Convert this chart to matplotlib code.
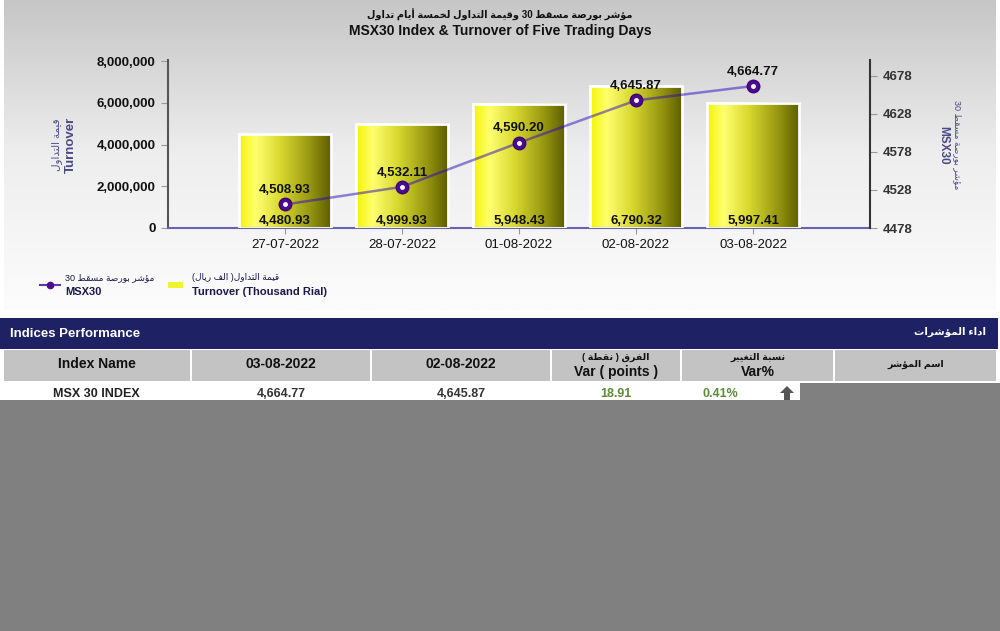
import matplotlib
matplotlib.use("Agg")
import matplotlib.pyplot as plt
import numpy as np
from matplotlib.colors import LinearSegmentedColormap
from matplotlib.patches import Rectangle, Polygon
from matplotlib.lines import Line2D

plt.rcParams['font.family'] = ['Liberation Sans', 'DejaVu Sans']

# ---- data ----
dates = ['27-07-2022', '28-07-2022', '01-08-2022', '02-08-2022', '03-08-2022']
turnover = [4480.93, 4999.93, 5948.43, 6790.32, 5997.41]   # thousand rial
index_vals = [4508.93, 4532.11, 4590.20, 4645.87, 4664.77]
left_ticks = [0, 2000000, 4000000, 6000000, 8000000]
right_ticks = [4478, 4528, 4578, 4628, 4678]

table_head = ['Index Name', '03-08-2022', '02-08-2022', 'Var ( points )', 'Var%']
table_head_ar = ['', '', '', 'الفرق ( نقطة )', 'نسبة التغيير', 'اسم المؤشر']
table_row = ['MSX 30 INDEX', '4,664.77', '4,645.87', '18.91', '0.41%']

# ---- tiny arabic shaping (matplotlib has no RTL support) ----
AR_FORMS = {
    '\u0621': (0xFE80, 'U'), '\u0623': (0xFE83, 'R'), '\u0624': (0xFE85, 'R'),
    '\u0627': (0xFE8D, 'R'), '\u0628': (0xFE8F, 'D'), '\u0629': (0xFE93, 'R'),
    '\u062A': (0xFE95, 'D'), '\u062E': (0xFEA5, 'D'), '\u062F': (0xFEA9, 'R'),
    '\u0631': (0xFEAD, 'R'), '\u0633': (0xFEB1, 'D'), '\u0634': (0xFEB5, 'D'),
    '\u0635': (0xFEB9, 'D'), '\u0637': (0xFEC1, 'D'), '\u063A': (0xFECD, 'D'),
    '\u0641': (0xFED1, 'D'), '\u0642': (0xFED5, 'D'), '\u0644': (0xFEDD, 'D'),
    '\u0645': (0xFEE1, 'D'), '\u0646': (0xFEE5, 'D'), '\u0648': (0xFEED, 'R'),
    '\u064A': (0xFEF1, 'D'),
}


def ar(text):
    chars = list(text)
    out = []
    for i, ch in enumerate(chars):
        if ch not in AR_FORMS:
            out.append(ch)
            continue
        base, kind = AR_FORMS[ch]
        prev = chars[i - 1] if i > 0 else ''
        nxt = chars[i + 1] if i + 1 < len(chars) else ''
        jp = kind in 'DR' and prev in AR_FORMS and AR_FORMS[prev][1] == 'D'
        jn = kind == 'D' and nxt in AR_FORMS and AR_FORMS[nxt][1] in 'DR'
        off = 3 if (jp and jn) else 1 if jp else 2 if jn else 0
        out.append(chr(base + off))
    out = out[::-1]
    mirror = {'(': ')', ')': '('}
    res, run = [], []
    for ch in out:
        if ch.isascii() and (ch.isalnum() or ch in '.,%'):
            run.append(ch)
        else:
            if run:
                res.extend(run[::-1])
                run = []
            res.append(mirror.get(ch, ch))
    if run:
        res.extend(run[::-1])
    return ''.join(res)


W, H = 1000, 631
fig = plt.figure(figsize=(W / 100, H / 100), dpi=100)
fig.patch.set_facecolor('white')

# full-figure axes in pixel coords for panel, legend and table
under = fig.add_axes([0, 0, 1, 1], zorder=0)
under.set_xlim(0, W)
under.set_ylim(H, 0)
under.axis('off')

grad = np.linspace(0, 1, 256)[:, None]
bg_cmap = LinearSegmentedColormap.from_list('bg', ['#c6c6c6', '#eeeeee', '#fcfcfc'])
under.imshow(grad, extent=[4, 996, 310, 0], cmap=bg_cmap, aspect='auto', origin='upper')
under.set_xlim(0, W)
under.set_ylim(H, 0)

# titles
under.text(500, 15, ar('مؤشر بورصة مسقط 30 وقيمة التداول لخمسة أيام تداول'),
           ha='center', va='center', fontsize=7, fontweight='bold', color='#111111')
under.text(500, 31, 'MSX30 Index & Turnover of Five Trading Days',
           ha='center', va='center', fontsize=10, fontweight='bold', color='#111111')

# axis titles
lab_col = '#4a4a8a'
under.text(71, 145, 'Turnover', rotation=90, ha='center', va='center',
           fontsize=9.5, fontweight='bold', color=lab_col)
under.text(57, 145, ar('قيمة التداول'), rotation=90, ha='center', va='center',
           fontsize=7.5, color=lab_col)
under.text(943, 145, 'MSX30', rotation=270, ha='center', va='center',
           fontsize=8.5, fontweight='bold', color=lab_col)
under.text(957, 145, ar('مؤشر بورصة مسقط 30'), rotation=270, ha='center', va='center',
           fontsize=6.5, color=lab_col)

# ---- chart ----
ax = fig.add_axes([168 / W, 1 - 228 / H, 702 / W, 168 / H], zorder=1)
ax.patch.set_visible(False)
pos = np.arange(1, len(dates) + 1)
heights = [v * 1000 for v in turnover]

bar_cmap = LinearSegmentedColormap.from_list(
    'bar', [(0, '#f4f400'), (0.18, '#ffff70'), (0.45, '#d8d830'), (0.75, '#9a9a12'), (1, '#5c5c00')])
bars = ax.bar(pos, heights, width=0.79, facecolor='none', edgecolor='white', linewidth=2, zorder=3)
hgrad = np.linspace(0, 1, 256)[None, :]
for b in bars:
    x0, w, h = b.get_x(), b.get_width(), b.get_height()
    ax.imshow(hgrad, extent=[x0, x0 + w, 0, h], cmap=bar_cmap, aspect='auto', zorder=2)
for p, v, h in zip(pos, turnover, heights):
    ax.annotate(f'{v:,.2f}', (p, 0), xytext=(0, 1), textcoords='offset points',
                ha='center', va='bottom', fontsize=9.5, fontweight='bold', color='#111111', zorder=5)

ax.set_xlim(0, 6)
ax.set_ylim(0, 8.05e6)
ax.set_xticks(pos, dates)
ax.set_yticks(left_ticks, [f'{t:,}' for t in left_ticks], fontweight='bold')
ax.tick_params(axis='y', direction='out', length=5, color='#999999', labelsize=9.5, pad=4,
               labelcolor='#111111')
ax.tick_params(axis='x', direction='out', length=4, color='#999999', labelsize=9.5, pad=4,
               labelcolor='#111111')
for s in ['top', 'right']:
    ax.spines[s].set_visible(False)
ax.spines['left'].set_color('#555555')
ax.spines['left'].set_linewidth(1.5)
ax.spines['bottom'].set_color('#6a64b0')
ax.spines['bottom'].set_linewidth(1.5)

ax2 = ax.twinx()
ax2.set_zorder(2)
ax2.patch.set_visible(False)
ax2.plot(pos, index_vals, color='#2a08c0', alpha=0.5, linewidth=1.8, zorder=3)
ax2.plot(pos, index_vals, linestyle='none', marker='o', markersize=9,
         markerfacecolor='#4c0c8c', markeredgecolor='#3e0078', zorder=4)
ax2.plot(pos, index_vals, linestyle='none', marker='o', markersize=2.5,
         markerfacecolor='white', markeredgecolor='white', zorder=5)
for p, v in zip(pos, index_vals):
    ax2.annotate(f'{v:,.2f}', (p, v), xytext=(0, 6), textcoords='offset points',
                 ha='center', va='bottom', fontsize=9.5, fontweight='bold', color='#111111', zorder=6)
ax2.set_ylim(4478, 4699)
ax2.set_yticks(right_ticks, [str(t) for t in right_ticks], fontweight='bold')
ax2.tick_params(axis='y', direction='out', length=5, color='#999999', labelsize=9.5, pad=4,
                labelcolor='#333333')
for s in ['top', 'left', 'bottom']:
    ax2.spines[s].set_visible(False)
ax2.spines['right'].set_color('#333333')
ax2.spines['right'].set_linewidth(1.5)

# ---- legend ----
leg_col = '#1a1a4a'
under.add_line(Line2D([40, 60], [285, 285], color='#5a3aa8', linewidth=1.5))
under.add_line(Line2D([50], [285], marker='o', markersize=4.5, color='#4c0c8c'))
under.text(65, 278, ar('مؤشر بورصة مسقط 30'), ha='left', va='center', fontsize=6.5, color=leg_col)
under.text(65, 292, 'MSX30', ha='left', va='center', fontsize=8, fontweight='bold', color=leg_col)
under.add_patch(Rectangle((168, 282), 15, 6, facecolor='#f2f230', edgecolor='none'))
under.text(192, 278, ar('قيمة التداول( الف ريال)'), ha='left', va='center', fontsize=6.5, color=leg_col)
under.text(192, 292, 'Turnover (Thousand Rial)', ha='left', va='center', fontsize=8,
           fontweight='bold', color=leg_col)

# ---- table ----
navy = '#1e2163'
under.add_patch(Rectangle((0, 318), 998, 31, facecolor=navy, edgecolor='none'))
under.text(10, 334, 'Indices Performance', ha='left', va='center', fontsize=9.5,
           fontweight='bold', color='white')
under.text(986, 332, ar('اداء المؤشرات'), ha='right', va='center', fontsize=7.5,
           fontweight='bold', color='white')

col_edges = [4, 192, 372, 552, 682, 835, 998]
narrow = ['Liberation Sans Narrow', 'Liberation Sans', 'DejaVu Sans']
for i in range(len(col_edges) - 1):
    x0, x1 = col_edges[i], col_edges[i + 1] - 2
    under.add_patch(Rectangle((x0, 350), x1 - x0, 31, facecolor='#c3c3c3', edgecolor='none'))
    xc = (x0 + x1) / 2
    if i < 3:
        under.text(xc, 364, table_head[i], ha='center', va='center', fontsize=10,
                   fontweight='bold', color='#111111', family=narrow)
    elif i < 5:
        under.text(xc, 357, ar(table_head_ar[i]), ha='center', va='center', fontsize=6.8,
                   fontweight='bold', color='#111111')
        under.text(xc, 372, table_head[i], ha='center', va='center', fontsize=10,
                   fontweight='bold', color='#111111', family=narrow)
    else:
        under.text(xc, 364, ar(table_head_ar[i]), ha='center', va='center', fontsize=6.8,
                   fontweight='bold', color='#111111')

row_colors = ['#222222', '#333333', '#333333', '#5b8c3a', '#5b8c3a']
row_x = [96, 281, 461, 616, 720]
for txt, x, c in zip(table_row, row_x, row_colors):
    under.text(x, 394, txt, ha='center', va='center', fontsize=9, fontweight='bold',
               color=c, family=narrow)
under.add_patch(Polygon([[787, 386], [794, 393], [790, 393], [790, 402], [784, 402],
                         [784, 393], [780, 393]], closed=True, facecolor='#555555',
                        edgecolor='none'))

# grey cover at the bottom
under.add_patch(Rectangle((800, 383), 200, 20, facecolor='#808080', edgecolor='none', zorder=5))
under.add_patch(Rectangle((0, 400), 1000, 231, facecolor='#808080', edgecolor='none', zorder=5))

fig.savefig('out.png', dpi=100, facecolor='white')
